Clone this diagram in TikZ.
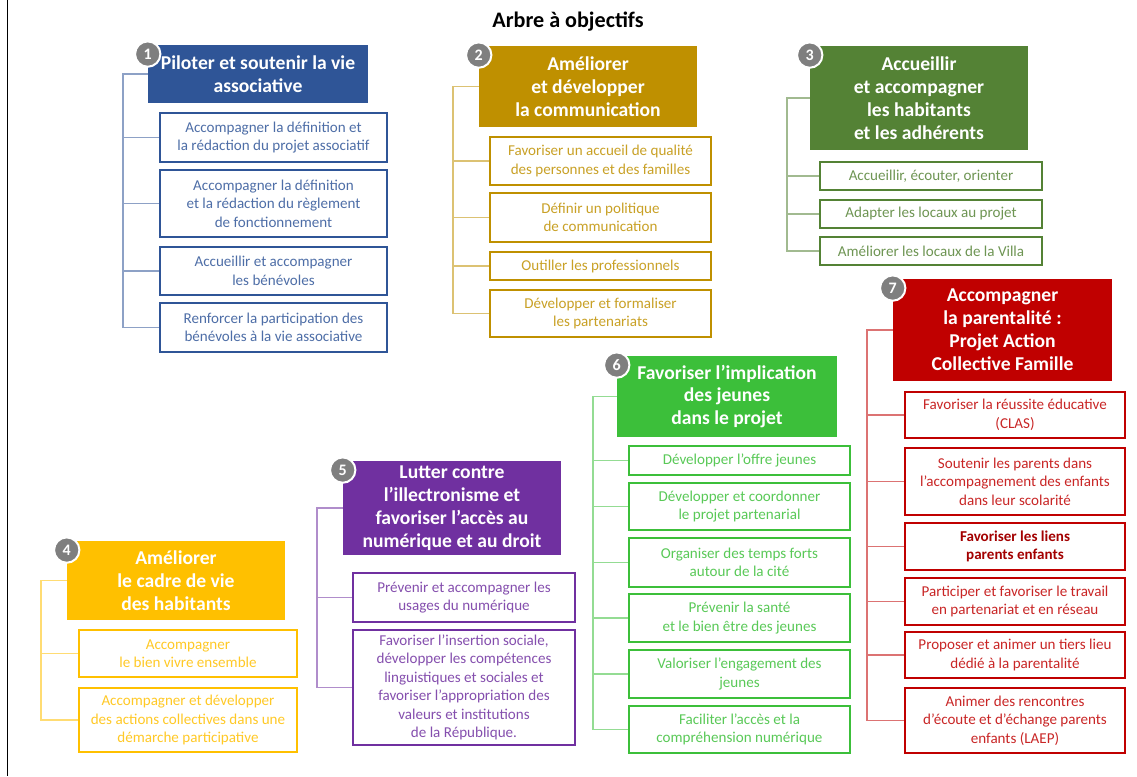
\documentclass[tikz,border=0pt]{standalone}
\usepackage{fontspec}
\setmainfont{Carlito}
\definecolor{cA}{HTML}{2F5597}
\definecolor{cB}{HTML}{BF9000}
\definecolor{cC}{HTML}{548235}
\definecolor{cD}{HTML}{FFC000}
\definecolor{cE}{HTML}{7030A0}
\definecolor{cF}{HTML}{3CBF3A}
\definecolor{cG}{HTML}{C00000}
\definecolor{badgegray}{HTML}{7F7F7F}
\newcommand\hfont{\fontsize{14.7}{17.2}\selectfont\bfseries}
\newcommand\sfont{\fontsize{11.3}{13.9}\selectfont}
\newcommand\bx[7]{%
  \pgfmathsetmacro\bxw{(#5-#3)*0.75}%
  \pgfmathsetmacro\bxh{(#6-#4)*0.75}%
  \node[#2, minimum width=\bxw pt, minimum height=\bxh pt] (#1) at ({(#3+#5)/2},{(#4+#6)/2}) {#7};}
\tikzset{
  hdr/.style={fill=#1, text=white, font=\hfont, align=center, inner sep=0pt},
  sub/.style={draw=#1, line width=2.2pt, fill=white, text=#1!85!white, font=\sfont, align=center, inner sep=0pt},
  brk/.style={draw=#1!55!white, line width=0.9pt},
  badge/.style={circle, fill=badgegray, draw=white, line width=1.5pt, minimum size=19pt, inner sep=0pt, text=white, font=\fontsize{12}{12}\selectfont\bfseries},
}
\begin{document}
\begin{tikzpicture}[x=0.75pt,y=-0.75pt]
\useasboundingbox (0,0) rectangle (1137,776);
\fill[white] (0,0) rectangle (1137,776);
\draw[line width=1.2pt] (7.5,0) -- (7.5,776);
\node[font=\fontsize{16.6}{20}\selectfont\bfseries] (title) at (568,22) {Arbre à objectifs};

% ---------- Group 1
\bx{h1}{hdr=cA}{148}{45}{368}{103}{Piloter et soutenir la vie\\associative}
\bx{s11}{sub=cA}{160}{113}{387}{162}{Accompagner la définition et\\la rédaction du projet associatif}
\bx{s12}{sub=cA}{160}{170}{387}{237}{Accompagner la définition\\et la rédaction du règlement\\de fonctionnement}
\bx{s13}{sub=cA}{160}{247}{387}{295}{Accueillir et accompagner\\les bénévoles}
\bx{s14}{sub=cA}{160}{303}{387}{352}{Renforcer la participation des\\bénévoles à la vie associative}
\coordinate (x1) at (123,0);
\draw[brk=cA] (h1.west) -- (h1.west -| x1) |- (s14.west);
\foreach \i in {1,2,3} \draw[brk=cA] (s1\i.west) -- (s1\i.west -| x1);
\node[badge] (k1) at ([yshift=-7pt]h1.north west) {1};

% ---------- Group 2
\bx{h2}{hdr=cB}{479}{46}{697}{127}{Améliorer\\et développer\\la communication}
\bx{s21}{sub=cB}{490}{137}{711}{185}{Favoriser un accueil de qualité\\des personnes et des familles}
\bx{s22}{sub=cB}{490}{193}{711}{242}{Définir un politique\\de communication}
\bx{s23}{sub=cB}{490}{252}{711}{280}{Outiller les professionnels}
\bx{s24}{sub=cB}{490}{290}{711}{337}{Développer et formaliser\\les partenariats}
\coordinate (x2) at (453,0);
\draw[brk=cB] (h2.west) -- (h2.west -| x2) |- (s24.west);
\foreach \i in {1,2,3} \draw[brk=cB] (s2\i.west) -- (s2\i.west -| x2);
\node[badge] (k2) at ([yshift=-7pt]h2.north west) {2};

% ---------- Group 3
\bx{h3}{hdr=cC}{810}{46}{1028}{150}{Accueillir\\et accompagner\\les habitants\\et les adhérents}
\bx{s31}{sub=cC}{820}{162}{1042}{190}{Accueillir, écouter, orienter}
\bx{s32}{sub=cC}{820}{200}{1042}{228}{Adapter les locaux au projet}
\bx{s33}{sub=cC}{820}{237}{1042}{265}{Améliorer les locaux de la Villa}
\coordinate (x3) at (787,0);
\draw[brk=cC] (h3.west) -- (h3.west -| x3) |- (s33.west);
\foreach \i in {1,2} \draw[brk=cC] (s3\i.west) -- (s3\i.west -| x3);
\node[badge] (k3) at ([yshift=-7pt]h3.north west) {3};

% ---------- Group 4
\bx{h4}{hdr=cD}{67}{541}{285}{620}{Améliorer\\le cadre de vie\\des habitants}
\bx{s41}{sub=cD}{79}{630}{297}{677}{Accompagner\\le bien vivre ensemble}
\bx{s42}{sub=cD}{79}{688}{297}{752}{Accompagner et développer\\des actions collectives dans une\\démarche participative}
\coordinate (x4) at (41,0);
\draw[brk=cD] (h4.west) -- (h4.west -| x4) |- (s42.west);
\draw[brk=cD] (s41.west) -- (s41.west -| x4);
\node[badge] (k4) at ([yshift=-7pt]h4.north west) {4};

% ---------- Group 5
\bx{h5}{hdr=cE}{343}{461}{561}{555}{Lutter contre\\l’illectronisme et\\favoriser l’accès au\\numérique et au droit}
\bx{s51}{sub=cE}{353}{573}{575}{622}{Prévenir et accompagner les\\usages du numérique}
\bx{s52}{sub=cE}{353}{630}{575}{745}{Favoriser l’insertion sociale,\\développer les compétences\\linguistiques et sociales et\\favoriser l’appropriation des\\valeurs et institutions\\de la République.}
\coordinate (x5) at (317,0);
\draw[brk=cE] (h5.west) -- (h5.west -| x5) |- (s52.west);
\draw[brk=cE] (s51.west) -- (s51.west -| x5);
\node[badge] (k5) at ([yshift=-7pt]h5.north west) {5};

% ---------- Group 6
\bx{h6}{hdr=cF}{617}{356}{837}{437}{Favoriser l’implication\\des jeunes\\dans le projet}
\bx{s61}{sub=cF}{629}{446}{850}{475}{Développer l’offre jeunes}
\bx{s62}{sub=cF}{629}{483}{850}{530}{Développer et coordonner\\le projet partenarial}
\bx{s63}{sub=cF}{629}{538}{850}{587}{Organiser des temps forts\\autour de la cité}
\bx{s64}{sub=cF}{629}{594}{850}{642}{Prévenir la santé\\et le bien être des jeunes}
\bx{s65}{sub=cF}{629}{650}{850}{698}{Valoriser l’engagement des\\jeunes}
\bx{s66}{sub=cF}{629}{706}{850}{753}{Faciliter l’accès et la\\compréhension numérique}
\coordinate (x6) at (593,0);
\draw[brk=cF] (h6.west) -- (h6.west -| x6) |- (s66.west);
\foreach \i in {1,...,5} \draw[brk=cF] (s6\i.west) -- (s6\i.west -| x6);
\node[badge] (k6) at ([yshift=-7pt]h6.north west) {6};

% ---------- Group 7
\bx{h7}{hdr=cG}{893}{279}{1112}{381}{Accompagner\\la parentalité :\\Projet Action\\Collective Famille}
\bx{s71}{sub=cG}{905}{392}{1125}{438}{Favoriser la réussite éducative\\(CLAS)}
\bx{s72}{sub=cG}{905}{448}{1125}{515}{Soutenir les parents dans\\l’accompagnement des enfants\\dans leur scolarité}
\bx{s73}{sub=cG}{905}{523}{1125}{570}{\textcolor{cG!85!black}{\bfseries Favoriser les liens}\\\textcolor{cG!85!black}{\bfseries parents enfants}}
\bx{s74}{sub=cG}{905}{578}{1125}{625}{Participer et favoriser le travail\\en partenariat et en réseau}
\bx{s75}{sub=cG}{905}{632}{1125}{678}{Proposer et animer un tiers lieu\\dédié à la parentalité}
\bx{s76}{sub=cG}{905}{688}{1125}{753}{Animer des rencontres\\d’écoute et d’échange parents\\enfants (LAEP)}
\coordinate (x7) at (867,0);
\draw[brk=cG] (h7.west) -- (h7.west -| x7) |- (s76.west);
\foreach \i in {1,...,5} \draw[brk=cG] (s7\i.west) -- (s7\i.west -| x7);
\node[badge] (k7) at ([yshift=-7pt]h7.north west) {7};
\end{tikzpicture}
\end{document}
